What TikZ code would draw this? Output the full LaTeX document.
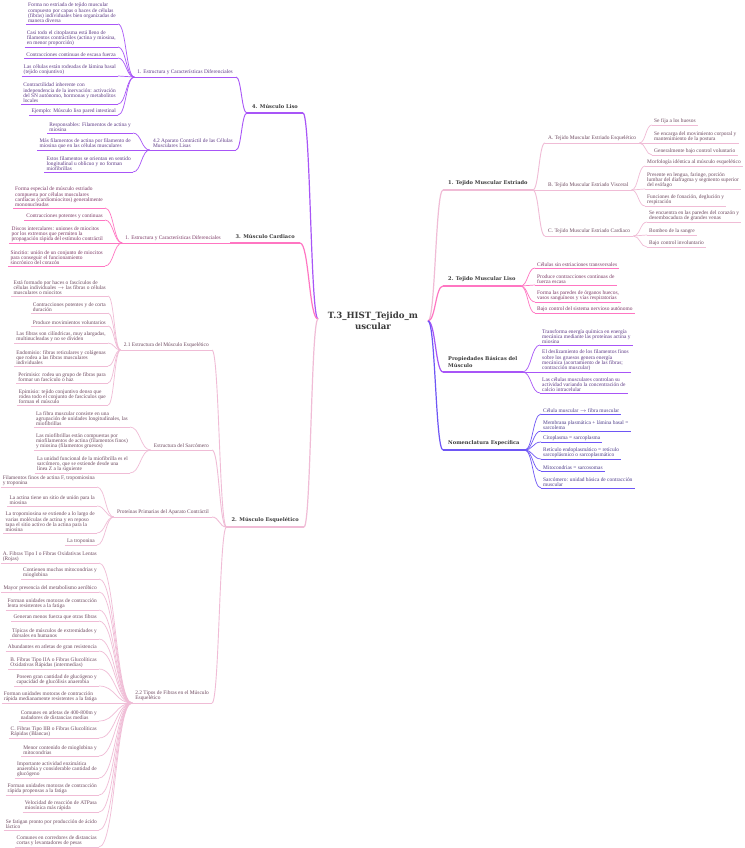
\documentclass[tikz,border=0pt]{standalone}
\usepackage{fontspec}
\setmainfont{Liberation Serif}
\newfontfamily\headfont{DejaVu Serif}
\usetikzlibrary{calc}
\definecolor{cpk}{HTML}{F0BCD6}
\definecolor{chp}{HTML}{FF76C2}
\definecolor{cpu}{HTML}{A855F7}
\definecolor{cbv}{HTML}{6E56F5}
\definecolor{tpk}{HTML}{6E4A60}
\definecolor{thp}{HTML}{7D3A66}
\definecolor{tpu}{HTML}{5E3A86}
\definecolor{tbv}{HTML}{4E3D8A}
\definecolor{headtext}{HTML}{3A3A3A}
\tikzset{
  leaf/.style={font=\fontsize{5.4}{5.4}\selectfont, align=left, inner xsep=2pt, inner ysep=0.8pt},
  sub/.style={font=\fontsize{5.4}{5.4}\selectfont, align=left, inner xsep=3pt, inner ysep=1.8pt},
  head/.style={font=\headfont\bfseries\fontsize{5.1}{7}\selectfont, text=headtext, align=left, inner xsep=5pt, inner ysep=4pt},
  tx pk/.style={text=tpk}, tx hp/.style={text=thp}, tx pu/.style={text=tpu}, tx bv/.style={text=tbv},
  ln pk/.style={draw=cpk, line width=0.7pt}, ln hp/.style={draw=chp, line width=0.7pt},
  ln pu/.style={draw=cpu, line width=0.7pt}, ln bv/.style={draw=cbv, line width=0.7pt},
  lns pk/.style={draw=cpk, line width=0.9pt}, lns hp/.style={draw=chp, line width=0.9pt},
  lns pu/.style={draw=cpu, line width=0.9pt}, lns bv/.style={draw=cbv, line width=0.9pt},
  lnm pk/.style={draw=cpk, line width=1.2pt}, lnm hp/.style={draw=chp, line width=1.2pt},
  lnm pu/.style={draw=cpu, line width=1.2pt}, lnm bv/.style={draw=cbv, line width=1.2pt},
}
\newcommand\cn[3]{\draw[#1] let \p1=(#2), \p2=(#3), \p3=($(\p1)!0.5!(\p2)$) in (\p1) .. controls (\x3,\y1) and (\x3,\y2) .. (\p2);}
\newcommand\Lf[6]{\node[leaf, tx #5, anchor=south east] (#1) at (#3,#4) {#6};
  \draw[ln #5] (#1.south west) -- (#1.south east);
  \cn{ln #5}{#2}{#1.south east}}
\newcommand\Rf[6]{\node[leaf, tx #5, anchor=south west] (#1) at (#3,#4) {#6};
  \draw[ln #5] (#1.south west) -- (#1.south east);
  \cn{ln #5}{#2}{#1.south west}}
\begin{document}
\begin{tikzpicture}[x=1pt,y=-1pt]
\fill[white] (0,0) rectangle (744,848);
\path[use as bounding box] (0,0) rectangle (744,848);
% root
\node[font=\headfont\bfseries\fontsize{8.6}{11}\selectfont, text=headtext, align=center] (root) at (373,321) {T.3\_HIST\_Tejido\_m\\uscular};
\coordinate (L) at (318,319);
\coordinate (R) at (428,321);
% ---------------- right main branches
\node[head, anchor=south west] (M1) at (443,190) {1. Tejido Muscular Estriado};
\node[head, anchor=south west] (M2) at (443,286) {2. Tejido Muscular Liso};
\node[head, anchor=south west] (M3) at (443,372) {Propiedades Básicas del\\Músculo};
\node[head, anchor=south west] (M4) at (443,450) {Nomenclatura Específica};
\draw[lnm pk] (M1.south west) -- (M1.south east);
\draw[lnm hp] (M2.south west) -- (M2.south east);
\draw[lnm pu] (M3.south west) -- (M3.south east);
\draw[lnm bv] (M4.south west) -- (M4.south east);
\cn{lnm pk}{R}{M1.south west}
\cn{lnm hp}{R}{M2.south west}
\cn{lnm pu}{R}{M3.south west}
\cn{lnm bv}{R}{M4.south west}
% ---- M1 subs
\node[sub, tx pk, anchor=south west] (A) at (545,143) {A. Tejido Muscular Estriado Esquelético};
\node[sub, tx pk, anchor=south west] (B) at (545,190) {B. Tejido Muscular Estriado Visceral};
\node[sub, tx pk, anchor=south west] (C) at (545,236) {C. Tejido Muscular Estriado Cardiaco};
\foreach \n in {A,B,C}{\draw[ln pk] (\n.south west) -- (\n.south east);}
\cn{lns pk}{M1.south east}{A.south west}
\cn{lns pk}{M1.south east}{B.south west}
\cn{lns pk}{M1.south east}{C.south west}
\Rf{a1}{A.south east}{652}{125}{pk}{Se fija a los huesos}
\Rf{a2}{A.south east}{652}{143}{pk}{Se encarga del movimiento corporal y\\mantenimiento de la postura}
\Rf{a3}{A.south east}{652}{155}{pk}{Generalmente bajo control voluntario}
\Rf{b1}{B.south east}{645}{166}{pk}{Morfología idéntica al músculo esquelético}
\Rf{b2}{B.south east}{645}{189}{pk}{Presente en lengua, faringe, porción\\lumbar del diafragma y segmento superior\\del esófago}
\Rf{b3}{B.south east}{645}{206}{pk}{Funciones de fonación, deglución y\\respiración}
\Rf{c1}{C.south east}{647}{222}{pk}{Se encuentra en las paredes del corazón y\\desembocadura de grandes venas}
\Rf{c2}{C.south east}{647}{235}{pk}{Bombeo de la sangre}
\Rf{c3}{C.south east}{647}{247}{pk}{Bajo control involuntario}
% ---- M2 leaves
\Rf{m21}{M2.south east}{535}{268}{hp}{Células sin estriaciones transversales}
\Rf{m22}{M2.south east}{535}{285}{hp}{Produce contracciones continuas de\\fuerza escasa}
\Rf{m23}{M2.south east}{535}{302}{hp}{Forma las paredes de órganos huecos,\\vasos sanguíneos y vías respiratorias}
\Rf{m24}{M2.south east}{535}{313}{hp}{Bajo control del sistema nervioso autónomo}
% ---- M3 leaves
\Rf{m31}{M3.south east}{540}{345}{pu}{Transforma energía química en energía\\mecánica mediante las proteínas actina y\\miosina}
\Rf{m32}{M3.south east}{540}{372}{pu}{El deslizamiento de los filamentos finos\\sobre los gruesos genera energía\\mecánica (acortamiento de las fibras;\\contracción muscular)}
\Rf{m33}{M3.south east}{540}{393}{pu}{Las células musculares controlan su\\actividad variando la concentración de\\calcio intracelular}
% ---- M4 leaves
\Rf{m41}{M4.south east}{541}{414}{bv}{Célula muscular $\rightarrow$ fibra muscular}
\Rf{m42}{M4.south east}{541}{431}{bv}{Membrana plasmática + lámina basal =\\sarcolema}
\Rf{m43}{M4.south east}{541}{442}{bv}{Citoplasma = sarcoplasma}
\Rf{m44}{M4.south east}{541}{459}{bv}{Retículo endoplasmático = retículo\\sarcoplásmico o sarcoplasmático}
\Rf{m45}{M4.south east}{541}{471}{bv}{Mitocondrias = sarcosomas}
\Rf{m46}{M4.south east}{541}{488}{bv}{Sarcómero: unidad básica de contracción\\muscular}
% ---------------- left main branches
\node[head, anchor=south east] (L4) at (303,113) {4. Músculo Liso};
\node[head, anchor=south east] (L3) at (300,243) {3. Músculo Cardiaco};
\node[head, anchor=south east] (L2) at (304,527) {2. Músculo Esquelético};
\draw[lnm pu] (L4.south west) -- (L4.south east);
\draw[lnm hp] (L3.south west) -- (L3.south east);
\draw[lnm pk] (L2.south west) -- (L2.south east);
\cn{lnm pu}{L}{L4.south east}
\cn{lnm hp}{L}{L3.south east}
\cn{lnm pk}{L}{L2.south east}
% ---- L4
\node[sub, tx pu, anchor=south east] (S41) at (236,77) {1. Estructura y Características Diferenciales};
\node[sub, tx pu, anchor=south east] (S42) at (236,150) {4.2 Aparato Contráctil de las Células\\Musculares Lisas};
\draw[ln pu] (S41.south west) -- (S41.south east);
\draw[ln pu] (S42.south west) -- (S42.south east);
\cn{lns pu}{L4.south west}{S41.south east}
\cn{lns pu}{L4.south west}{S42.south east}
\Lf{p1}{S41.south west}{118}{24}{pu}{Forma no estriada de tejido muscular\\compuesto por capas o haces de células\\(fibras) individuales bien organizadas de\\manera diversa}
\Lf{p2}{S41.south west}{118}{47}{pu}{Casi todo el citoplasma está lleno de\\filamentos contráctiles (actina y miosina,\\en menor proporción)}
\Lf{p3}{S41.south west}{118}{58}{pu}{Contracciones continuas de escasa fuerza}
\Lf{p4}{S41.south west}{118}{76}{pu}{Las células están rodeadas de lámina basal\\(tejido conjuntivo)}
\Lf{p5}{S41.south west}{118}{104}{pu}{Contractilidad inherente con\\independencia de la inervación: activación\\del SN autónomo, hormonas y metabolitos\\locales}
\Lf{p6}{S41.south west}{118}{115}{pu}{Ejemplo: Músculo liso pared intestinal}
\Lf{q1}{S42.south west}{133}{133}{pu}{Responsables: Filamentos de actina y\\miosina}
\Lf{q2}{S42.south west}{133}{150}{pu}{Más filamentos de actina por filamento de\\miosina que en las células musculares}
\Lf{q3}{S42.south west}{133}{172}{pu}{Estos filamentos se orientan en sentido\\longitudinal u oblicuo y no forman\\miofibrillas}
% ---- L3
\node[sub, tx hp, anchor=south east] (S31) at (224,243) {1. Estructura y Características Diferenciales};
\draw[ln hp] (S31.south west) -- (S31.south east);
\cn{lns hp}{L3.south west}{S31.south east}
\Lf{r1}{S31.south west}{105}{208}{hp}{Forma especial de músculo estriado\\compuesta por células musculares\\cardíacas (cardiomiocitos) generalmente\\mononucleadas}
\Lf{r2}{S31.south west}{105}{220}{hp}{Contracciones potentes y continuas}
\Lf{r3}{S31.south west}{105}{243}{hp}{Discos intercalares: uniones de miocitos\\por los extremos que permiten la\\propagación rápida del estímulo contráctil}
\Lf{r4}{S31.south west}{105}{266}{hp}{Sincitio: unión de un conjunto de miocitos\\para conseguir el funcionamiento\\sincrónico del corazón}
% ---- L2
\node[sub, tx pk, anchor=south east] (S21) at (212,350) {2.1 Estructura del Músculo Esquelético};
\node[sub, tx pk, anchor=south east] (S22) at (212,450) {Estructura del Sarcómero};
\node[sub, tx pk, anchor=south east] (S23) at (212,517) {Proteínas Primarias del Aparato Contráctil};
\node[sub, tx pk, anchor=south east] (S24) at (212,703) {2.2 Tipos de Fibras en el Músculo\\Esquelético};
\foreach \n in {S21,S22,S23,S24}{\draw[ln pk] (\n.south west) -- (\n.south east);}
\cn{lns pk}{L2.south west}{S21.south east}
\cn{lns pk}{L2.south west}{S22.south east}
\cn{lns pk}{L2.south west}{S23.south east}
\cn{lns pk}{L2.south west}{S24.south east}
\Lf{e1}{S21.south west}{108}{296}{pk}{Está formado por haces o fascículos de\\células individuales $\rightarrow$ las fibras o células\\musculares o miocitos}
\Lf{e2}{S21.south west}{108}{313}{pk}{Contracciones potentes y de corta\\duración}
\Lf{e3}{S21.south west}{108}{326}{pk}{Produce movimientos voluntarios}
\Lf{e4}{S21.south west}{108}{343}{pk}{Las fibras son cilíndricas, muy alargadas,\\multinucleadas y no se dividen}
\Lf{e5}{S21.south west}{108}{366}{pk}{Endomisio: fibras reticulares y colágenas\\que rodea a las fibras musculares\\individuales}
\Lf{e6}{S21.south west}{108}{383}{pk}{Perimisio: rodea un grupo de fibras para\\formar un fascículo o haz}
\Lf{e7}{S21.south west}{108}{405}{pk}{Epimisio: tejido conjuntivo denso que\\rodea todo el conjunto de fascículos que\\forman el músculo}
\Lf{f1}{S22.south west}{130}{427}{pk}{La fibra muscular consiste en una\\agrupación de unidades longitudinales, las\\miofibrillas}
\Lf{f2}{S22.south west}{130}{450}{pk}{Las miofibrillas están compuestas por\\miofilamentos de actina (filamentos finos)\\y miosina (filamentos gruesos)}
\Lf{f3}{S22.south west}{130}{473}{pk}{La unidad funcional de la miofibrilla es el\\sarcómero, que se extiende desde una\\línea Z a la siguiente}
\Lf{g1}{S23.south west}{97}{487}{pk}{Filamentos finos de actina F, tropomiosina\\y troponina}
\Lf{g2}{S23.south west}{97}{506}{pk}{La actina tiene un sitio de unión para la\\miosina}
\Lf{g3}{S23.south west}{97}{533}{pk}{La tropomiosina se extiende a lo largo de\\varias moléculas de actina y en reposo\\tapa el sitio activo de la actina para la\\miosina}
\Lf{g4}{S23.south west}{97}{545}{pk}{La troponina}
\Lf{h1}{S24.south west}{99}{563}{pk}{A. Fibras Tipo I o Fibras Oxidativas Lentas\\(Rojas)}
\Lf{h2}{S24.south west}{99}{579}{pk}{Contienen muchas mitocondrias y\\mioglobina}
\Lf{h3}{S24.south west}{99}{592}{pk}{Mayor presencia del metabolismo aeróbico}
\Lf{h4}{S24.south west}{99}{610}{pk}{Forman unidades motoras de contracción\\lenta resistentes a la fatiga}
\Lf{h5}{S24.south west}{99}{621}{pk}{Generan menos fuerza que otras fibras}
\Lf{h6}{S24.south west}{99}{639}{pk}{Típicas de músculos de extremidades y\\dorsales en humanos}
\Lf{h7}{S24.south west}{99}{651}{pk}{Abundantes en atletas de gran resistencia}
\Lf{h8}{S24.south west}{99}{669}{pk}{B. Fibras Tipo IIA o Fibras Glucolíticas\\Oxidativas Rápidas (intermedias)}
\Lf{h9}{S24.south west}{99}{686}{pk}{Poseen gran cantidad de glucógeno y\\capacidad de glucólisis anaerobia}
\Lf{h10}{S24.south west}{99}{703}{pk}{Forman unidades motoras de contracción\\rápida medianamente resistentes a la fatiga}
\Lf{h11}{S24.south west}{99}{721}{pk}{Comunes en atletas de 400-800m y\\nadadores de distancias medias}
\Lf{h12}{S24.south west}{99}{738}{pk}{C. Fibras Tipo IIB o Fibras Glucolíticas\\Rápidas (Blancas)}
\Lf{h13}{S24.south west}{99}{756}{pk}{Menor contenido de mioglobina y\\mitocondrias}
\Lf{h14}{S24.south west}{99}{778}{pk}{Importante actividad enzimática\\anaerobia y considerable cantidad de\\glucógeno}
\Lf{h15}{S24.south west}{99}{795}{pk}{Forman unidades motoras de contracción\\rápida propensas a la fatiga}
\Lf{h16}{S24.south west}{99}{812}{pk}{Velocidad de reacción de ATPasa\\miosínica más rápida}
\Lf{h17}{S24.south west}{99}{830}{pk}{Se fatigan pronto por producción de ácido\\láctico}
\Lf{h18}{S24.south west}{99}{847}{pk}{Comunes en corredores de distancias\\cortas y levantadores de pesas}
\end{tikzpicture}
\end{document}
